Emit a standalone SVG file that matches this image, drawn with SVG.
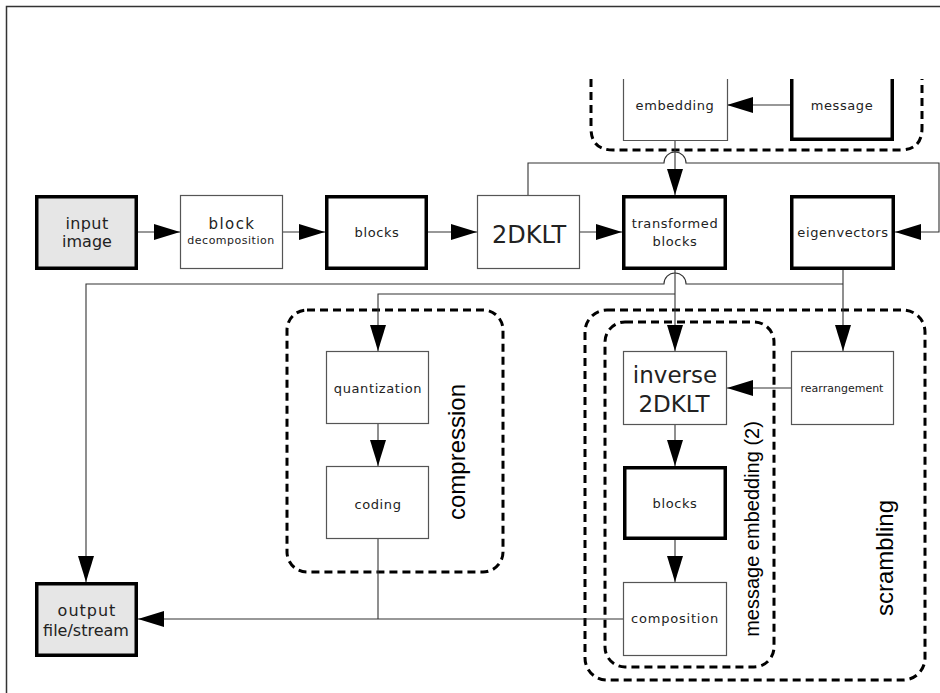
<svg xmlns="http://www.w3.org/2000/svg" width="940" height="693" viewBox="0 0 940 693">
<defs>
<marker id="ah" markerUnits="userSpaceOnUse" markerWidth="26" markerHeight="16" refX="26" refY="8" orient="auto">
<path d="M0,0 L26,8 L0,16 z" fill="#000"/>
</marker>
<style>
.thin{fill:#fff;stroke:#555;stroke-width:1.2}
.thick{fill:#fff;stroke:#000;stroke-width:3.5}
.gray{fill:#e6e6e6}
.lbl{font-family:"DejaVu Sans",sans-serif;font-size:13px;letter-spacing:0.6px;fill:#222;text-anchor:middle}
.big{font-family:"Liberation Sans",Arial,sans-serif;fill:#000;text-anchor:middle}
.con{fill:none;stroke:#333;stroke-width:1.1}
.grp{fill:none;stroke:#000;stroke-width:3;stroke-dasharray:8,5}
</style>
</defs>
<rect width="940" height="693" fill="#fff"/>
<path d="M6.5,693 V6.5 H940" fill="none" stroke="#333" stroke-width="1.5"/>

<g id="containers">
<path id="g-embedding" class="grp" d="M591,79 V128 Q591,150 613,150 H900 Q922,150 922,128 V79"/>
<rect id="g-compression" class="grp" x="287" y="310" width="216" height="262" rx="20"/>
<rect id="g-scrambling" class="grp" x="585" y="310" width="340" height="370" rx="22"/>
<rect id="g-msgemb" class="grp" x="605" y="322" width="169" height="345" rx="20"/>
</g>

<g id="connectors">
<path class="con" d="M138,232 H180" marker-end="url(#ah)"/>
<path class="con" d="M283,232 H325" marker-end="url(#ah)"/>
<path class="con" d="M428,232 H477" marker-end="url(#ah)"/>
<path class="con" d="M580,232 H622" marker-end="url(#ah)"/>
<path class="con" d="M528,195 V163 H664 A11,11 0 0 1 686,163 H939 V232 H895" marker-end="url(#ah)"/>
<path class="con" d="M675,140 V195" marker-end="url(#ah)"/>
<path class="con" d="M790,105 H727" marker-end="url(#ah)"/>
<path class="con" d="M843,270 V351" marker-end="url(#ah)"/>
<path class="con" d="M843,284 H686 A11,11 0 0 0 664,284 H86 V582" marker-end="url(#ah)"/>
<path class="con" d="M675,270 V351" marker-end="url(#ah)"/>
<path class="con" d="M675,294 H378 V351" marker-end="url(#ah)"/>
<path class="con" d="M378,424 V466" marker-end="url(#ah)"/>
<path class="con" d="M378,539 V619"/>
<path class="con" d="M623,619 H138" marker-end="url(#ah)"/>
<path class="con" d="M675,425 V466" marker-end="url(#ah)"/>
<path class="con" d="M675,540 V582" marker-end="url(#ah)"/>
<path class="con" d="M791,388 H727" marker-end="url(#ah)"/>
</g>

<g id="input-image">
<rect class="thick gray" x="36.75" y="196.75" width="99.5" height="71.5"/>
<text class="lbl" x="87" y="229" style="font-size:16px;letter-spacing:0.4px">input</text>
<text class="lbl" x="87" y="247" style="font-size:16px;letter-spacing:0">image</text>
</g>
<g id="block-decomposition">
<rect class="thin" x="180.5" y="195.5" width="102" height="73"/>
<text class="lbl" x="232" y="229" style="font-size:15px;letter-spacing:1.4px">block</text>
<text class="lbl" x="231" y="244" style="font-size:11px;letter-spacing:0.5px">decomposition</text>
</g>
<g id="blocks">
<rect class="thick" x="326.75" y="196.75" width="99.5" height="71.5"/>
<text class="lbl" x="377" y="237">blocks</text>
</g>
<g id="twodklt">
<rect class="thin" x="477.5" y="195.5" width="102" height="73"/>
<text class="lbl" x="529" y="243" style="font-size:24px;letter-spacing:0">2DKLT</text>
</g>
<g id="transformed-blocks">
<rect class="thick" x="623.75" y="196.75" width="101.5" height="71.5"/>
<text class="lbl" x="675" y="228">transformed</text>
<text class="lbl" x="675" y="246">blocks</text>
</g>
<g id="eigenvectors">
<rect class="thick" x="791.75" y="196.75" width="101.5" height="71.5"/>
<text class="lbl" x="843" y="237">eigenvectors</text>
</g>
<g id="embedding">
<path class="thin" d="M623.5,79 V140.5 H727.5 V79"/>
<text class="lbl" x="675" y="110">embedding</text>
</g>
<g id="message">
<path class="thick" d="M791.75,79 V139.25 H892.25 V79"/>
<text class="lbl" x="842" y="110">message</text>
</g>
<g id="quantization">
<rect class="thin" x="326.5" y="351.5" width="102" height="72"/>
<text class="lbl" x="378" y="393">quantization</text>
</g>
<g id="coding">
<rect class="thin" x="326.5" y="466.5" width="102" height="72"/>
<text class="lbl" x="378" y="509">coding</text>
</g>
<g id="inverse-2dklt">
<rect class="thin" x="623.5" y="351.5" width="103" height="73"/>
<text class="lbl" x="675" y="383" style="font-size:23px;letter-spacing:0">inverse</text>
<text class="lbl" x="674" y="412" style="font-size:23px;letter-spacing:0">2DKLT</text>
</g>
<g id="rearrangement">
<rect class="thin" x="791.5" y="351.5" width="102" height="73"/>
<text class="lbl" x="842" y="392" style="font-size:11px;letter-spacing:0">rearrangement</text>
</g>
<g id="blocks-2">
<rect class="thick" x="624.75" y="467.75" width="100.5" height="70.5"/>
<text class="lbl" x="675" y="508">blocks</text>
</g>
<g id="composition">
<rect class="thin" x="623.5" y="582.5" width="103" height="73"/>
<text class="lbl" x="675" y="623" style="letter-spacing:0.8px">composition</text>
</g>
<g id="output">
<rect class="thick gray" x="36.75" y="583.75" width="99.5" height="71.5"/>
<text class="lbl" x="87" y="616" style="font-size:16px;letter-spacing:1px">output</text>
<text class="lbl" x="86" y="636" style="font-size:16px;letter-spacing:0">file/stream</text>
</g>

<g id="labels">
<text class="big" transform="translate(465,452) rotate(-90)" style="font-size:24px">compression</text>
<text class="big" transform="translate(759,529) rotate(-90)" style="font-size:20px">message embedding (2)</text>
<text class="big" transform="translate(893,558) rotate(-90)" style="font-size:24px">scrambling</text>
</g>
</svg>
